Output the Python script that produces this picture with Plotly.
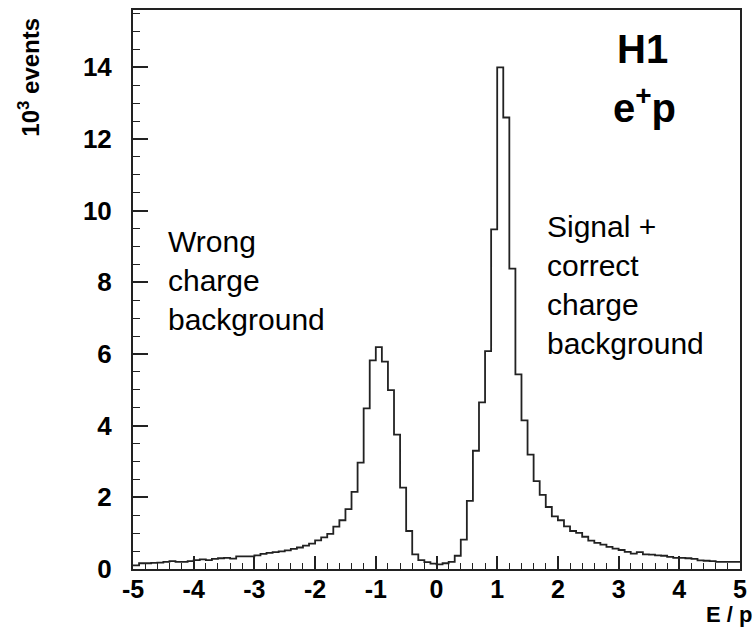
import plotly.graph_objects as go

# bin edges: 100 bins of width 0.1 from -5 to 5
bin_lo = -5.0
bin_width = 0.1

# counts in units of 10^3 events
counts = [
    # -5.0 .. -4.1
    0.10, 0.16, 0.16, 0.17, 0.18, 0.20, 0.22, 0.20, 0.20, 0.22,
    # -4.0 .. -3.1
    0.25, 0.27, 0.25, 0.28, 0.30, 0.31, 0.29, 0.35, 0.35, 0.35,
    # -3.0 .. -2.1
    0.38, 0.42, 0.45, 0.47, 0.49, 0.52, 0.56, 0.60, 0.65, 0.71,
    # -2.0 .. -1.1
    0.80, 0.88, 0.98, 1.18, 1.36, 1.67, 2.15, 2.97, 4.48, 5.82,
    # -1.0 .. -0.1
    6.19, 5.79, 4.99, 3.75, 2.27, 1.06, 0.41, 0.25, 0.19, 0.15,
    # 0.0 .. 0.9
    0.13, 0.16, 0.20, 0.37, 0.82, 1.90, 3.30, 4.65, 6.08, 9.48,
    # 1.0 .. 1.9
    14.0, 12.6, 8.38, 5.43, 4.15, 3.19, 2.45, 2.07, 1.73, 1.47,
    # 2.0 .. 2.9
    1.36, 1.19, 1.06, 1.01, 0.90, 0.79, 0.73, 0.68, 0.62, 0.57,
    # 3.0 .. 3.9
    0.53, 0.48, 0.43, 0.47, 0.41, 0.40, 0.38, 0.37, 0.34, 0.31,
    # 4.0 .. 4.9
    0.31, 0.30, 0.28, 0.24, 0.23, 0.22, 0.20, 0.20, 0.20, 0.20,
]

x_ticks = [-5, -4, -3, -2, -1, 0, 1, 2, 3, 4, 5]
y_ticks = [0, 2, 4, 6, 8, 10, 12, 14]

edges = [round(bin_lo + i * bin_width, 2) for i in range(len(counts) + 1)]
ys = counts + [counts[-1]]

fig = go.Figure()
fig.add_trace(go.Scatter(
    x=edges, y=ys, mode="lines", line_shape="hv",
    line=dict(color="#222222", width=1.8), showlegend=False, hoverinfo="skip",
))

xtickfont = dict(family="Liberation Sans", size=25, color="black", weight="bold")
ytickfont = dict(family="Liberation Sans", size=26, color="black", weight="bold")

fig.update_xaxes(
    range=[-5, 5], tickmode="array", tickvals=x_ticks,
    ticktext=[str(v) for v in x_ticks],
    ticks="inside", ticklen=13, tickwidth=1.5, tickcolor="#222",
    minor=dict(dtick=0.2, ticks="inside", ticklen=6, tickwidth=1.2, tickcolor="#222", showgrid=False),
    showline=True, linecolor="#222", linewidth=2, mirror=True,
    showgrid=False, zeroline=False, tickfont=xtickfont, ticklabelstandoff=-3,
)
fig.update_yaxes(
    range=[0, 15.6], tickmode="array", tickvals=y_ticks,
    ticktext=[str(v) for v in y_ticks],
    ticks="inside", ticklen=15, tickwidth=1.5, tickcolor="#222",
    minor=dict(dtick=0.5, ticks="inside", ticklen=7, tickwidth=1.2, tickcolor="#222", showgrid=False),
    showline=True, linecolor="#222", linewidth=2, mirror=True,
    showgrid=False, zeroline=False, tickfont=ytickfont, ticklabelstandoff=14,
)

textfont = dict(family="Liberation Sans", size=30, color="black")
boldfont = dict(family="Liberation Sans", size=40, color="black", weight="bold")

fig.add_annotation(x=3.40, y=14.5, xref="x", yref="y", text="H1", showarrow=False,
                   font=boldfont, xanchor="center", yanchor="middle")
fig.add_annotation(x=3.43, y=12.95, xref="x", yref="y", text="e<sup>+</sup>p", showarrow=False,
                   font=boldfont, xanchor="center", yanchor="middle")
fig.add_annotation(x=-4.45, y=8.05, xref="x", yref="y",
                   text="Wrong<br>charge<br>background", showarrow=False,
                   font=textfont, xanchor="left", yanchor="middle", align="left")
fig.add_annotation(x=1.78, y=7.92, xref="x", yref="y",
                   text="Signal +<br>correct<br>charge<br>background", showarrow=False,
                   font=textfont, xanchor="left", yanchor="middle", align="left")
fig.add_annotation(x=-0.172, y=0.88, xref="paper", yref="paper",
                   text="10<sup>3</sup> events", showarrow=False, textangle=-90,
                   font=dict(family="Liberation Sans", size=24, color="black", weight="bold"),
                   xanchor="center", yanchor="middle")
fig.add_annotation(x=1.022, y=-0.057, xref="paper", yref="paper",
                   text="E / p", showarrow=False, borderpad=0,
                   font=dict(family="Liberation Sans", size=22, color="black", weight="bold"),
                   xanchor="right", yanchor="top")

fig.update_layout(
    width=755, height=628, autosize=False,
    margin=dict(l=133, r=12, t=8, b=59),
    plot_bgcolor="white", paper_bgcolor="white",
)

fig.write_html("out.html")
